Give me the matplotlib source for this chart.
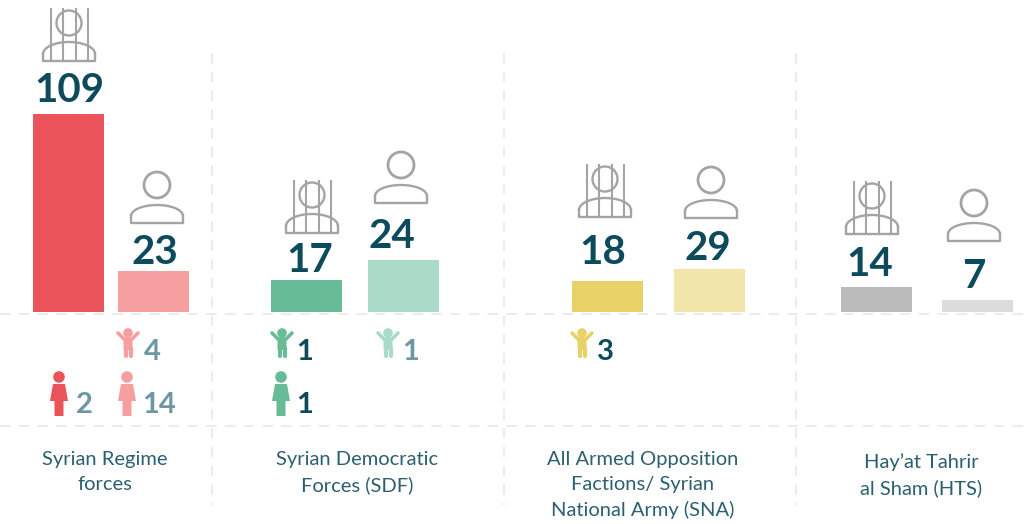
import matplotlib
matplotlib.use("Agg")
import matplotlib.pyplot as plt
from matplotlib.patches import Circle, Polygon, Arc, FancyBboxPatch

plt.rcParams['font.family'] = ['Lato', 'DejaVu Sans']

# bar tops are not to a common scale in the source, heights are as drawn
counts = ["109", "23", "17", "24", "18", "29", "14", "7"]
heights = [198, 41, 32, 52, 31, 43, 25, 12]
lefts = [33, 118, 271, 368, 572, 674, 841, 942]
colors = ["#ea5359", "#f59fa1", "#67bb97", "#aadac8", "#e8d166", "#f2e5aa", "#bababa", "#dcdcdc"]
count_xy = [(69, 90), (155, 252), (310, 261), (392, 237), (603, 253), (708, 249), (870, 264), (974, 276)]

groups = ["Syrian Regime\nforces", "Syrian Democratic\nForces (SDF)",
          "All Armed Opposition\nFactions/ Syrian\nNational Army (SNA)", "Hay\u2019at Tahrir\nal Sham (HTS)"]
group_xy = [(105, 451), (357, 451), (643, 451), (921, 453)]

# icon x, head y
jailed = [(69, 23), (312, 195), (605, 179), (872, 196)]
free = [(157, 185), (401, 165), (711, 180), (974, 203)]

# x, y, colour, value, value x, value colour
children = [(128, 343, "#f59fa1", "4", 152, "#6d97a5"), (282, 343, "#67bb97", "1", 305, "#0d4a5c"),
            (388, 343, "#aadac8", "1", 411, "#6d97a5"), (582, 343, "#e8d166", "3", 605, "#0d4a5c")]
women = [(59, 377, "#ea5359", "2", 84, "#6d97a5"), (127, 377, "#f59fa1", "14", 159, "#6d97a5"),
         (281, 377, "#67bb97", "1", 305, "#0d4a5c")]

fig = plt.figure(figsize=(10.24, 5.24), dpi=100)
ax = fig.add_axes([0, 0, 1, 1])
ax.set_xlim(0, 1024)
ax.set_ylim(524, 0)
ax.axis("off")

grey = "#a4a4a6"


def shoulders(x, base, top):
    # flat bottom with a domed top, 52 px wide
    ax.add_patch(Arc((x, base - 7), 52, (base - 7 - top) * 2, theta1=180, theta2=360, color=grey, lw=1.7))
    ax.plot([x - 26, x - 26, x + 26, x + 26], [base - 7, base, base, base - 7], color=grey, lw=1.7, solid_joinstyle="round")


def jailed_icon(x, y):
    ax.add_patch(Circle((x, y), 12.5, fill=False, ec=grey, lw=1.7))
    shoulders(x, y + 38, y + 19)
    for dx in (-18, -6, 7, 19):
        ax.plot([x + dx, x + dx], [y - 14, y + 38], color=grey, lw=1.5)


def free_icon(x, y):
    ax.add_patch(Circle((x, y), 13, fill=False, ec=grey, lw=2))
    shoulders(x, y + 38, y + 20)


def child_icon(x, y, c):
    ax.add_patch(Circle((x, y - 10), 4.8, color=c, lw=0))
    ax.plot([x - 10, x - 4, x + 4, x + 10], [y - 10, y - 4, y - 4, y - 10], color=c, lw=2.6, solid_capstyle="round")
    ax.add_patch(FancyBboxPatch((x - 4.5, y - 4), 9, 11, boxstyle="round,pad=0,rounding_size=1.5", color=c, lw=0))
    ax.plot([x - 2.5, x - 2.5], [y + 5, y + 13], color=c, lw=3, solid_capstyle="round")
    ax.plot([x + 2.5, x + 2.5], [y + 5, y + 13], color=c, lw=3, solid_capstyle="round")


def woman_icon(x, y, c):
    ax.add_patch(Circle((x, y), 5.8, color=c, lw=0))
    ax.add_patch(Polygon([(x - 6, y + 7), (x + 6, y + 7), (x + 9, y + 24), (x + 4.5, y + 24), (x + 4.5, y + 39),
                          (x - 4.5, y + 39), (x - 4.5, y + 24), (x - 9, y + 24)], color=c, lw=0))


# dashed grid
for xv in (212, 504, 796):
    ax.plot([xv, xv], [53, 505], color="#ececec", lw=1.5, dashes=(5, 4), zorder=0)
for yv in (314, 426):
    ax.plot([0, 1024], [yv, yv], color="#ececec", lw=1.5, dashes=(5, 4), zorder=0)

ax.bar(lefts, heights, width=71, bottom=[312 - h for h in heights], align="edge", color=colors, lw=0)

for (x, y), s in zip(count_xy, counts):
    ax.text(x, y, s, color="#0d4a5c", fontsize=29, fontweight="bold", ha="center", va="center")

for x, y in jailed:
    jailed_icon(x, y)
for x, y in free:
    free_icon(x, y)

for x, y, c, s, tx, tc in children:
    child_icon(x, y, c)
    ax.text(tx, 352, s, color=tc, fontsize=21, fontweight="bold", ha="center", va="center")
for x, y, c, s, tx, tc in women:
    woman_icon(x, y, c)
    ax.text(tx, 405, s, color=tc, fontsize=21, fontweight="bold", ha="center", va="center")

for (x, y), s in zip(group_xy, groups):
    ax.text(x, y, s, color="#2c6070", fontsize=14.5, ha="center", va="top", linespacing=1.55)

fig.savefig("out.png", dpi=100)
